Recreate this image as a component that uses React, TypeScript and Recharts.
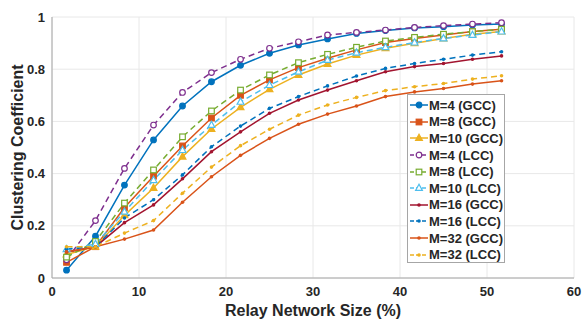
import React from 'react';
import { LineChart, Line, XAxis, YAxis, CartesianGrid, Legend, Label } from 'recharts';

const xs = [1.67, 5, 8.33, 11.67, 15, 18.33, 21.67, 25, 28.33, 31.67, 35, 38.33, 41.67, 45, 48.33, 51.67];

const m4Gcc = [0.03, 0.16, 0.356, 0.529, 0.659, 0.752, 0.815, 0.861, 0.893, 0.916, 0.937, 0.948, 0.958, 0.963, 0.969, 0.973];
const m8Gcc = [0.06, 0.12, 0.27, 0.39, 0.506, 0.613, 0.70, 0.759, 0.806, 0.842, 0.874, 0.902, 0.918, 0.931, 0.944, 0.953];
const m10Gcc = [0.09, 0.12, 0.24, 0.345, 0.465, 0.571, 0.654, 0.723, 0.778, 0.82, 0.854, 0.88, 0.899, 0.918, 0.934, 0.944];
const m4Lcc = [0.07, 0.22, 0.42, 0.586, 0.711, 0.787, 0.838, 0.88, 0.905, 0.931, 0.941, 0.95, 0.96, 0.967, 0.973, 0.978];
const m8Lcc = [0.08, 0.14, 0.287, 0.414, 0.541, 0.64, 0.72, 0.778, 0.825, 0.857, 0.884, 0.908, 0.922, 0.934, 0.944, 0.953];
const m10Lcc = [0.11, 0.13, 0.254, 0.375, 0.49, 0.586, 0.675, 0.739, 0.79, 0.835, 0.863, 0.884, 0.902, 0.918, 0.931, 0.944];
const m16Gcc = [0.10, 0.12, 0.212, 0.28, 0.38, 0.484, 0.56, 0.631, 0.682, 0.72, 0.756, 0.79, 0.81, 0.822, 0.838, 0.851];
const m16Lcc = [0.11, 0.12, 0.23, 0.30, 0.395, 0.503, 0.582, 0.65, 0.695, 0.736, 0.774, 0.803, 0.822, 0.838, 0.854, 0.867];
const m32Gcc = [0.10, 0.12, 0.149, 0.184, 0.29, 0.388, 0.47, 0.535, 0.589, 0.628, 0.659, 0.695, 0.713, 0.726, 0.743, 0.756];
const m32Lcc = [0.12, 0.12, 0.172, 0.22, 0.325, 0.425, 0.507, 0.57, 0.624, 0.663, 0.692, 0.718, 0.733, 0.745, 0.762, 0.775];

const xTicks = [0, 10, 20, 30, 40, 50, 60];
const yTicks = [0, 0.2, 0.4, 0.6, 0.8, 1];

const series = [
  { key: 'm4Gcc', name: 'M=4 (GCC)', values: m4Gcc, color: '#0072BD', marker: 'circle', filled: true, dashed: false },
  { key: 'm8Gcc', name: 'M=8 (GCC)', values: m8Gcc, color: '#D95319', marker: 'square', filled: true, dashed: false },
  { key: 'm10Gcc', name: 'M=10 (GCC)', values: m10Gcc, color: '#EDB120', marker: 'triangle', filled: true, dashed: false },
  { key: 'm4Lcc', name: 'M=4 (LCC)', values: m4Lcc, color: '#7E2F8E', marker: 'circle', filled: false, dashed: true },
  { key: 'm8Lcc', name: 'M=8 (LCC)', values: m8Lcc, color: '#77AC30', marker: 'square', filled: false, dashed: true },
  { key: 'm10Lcc', name: 'M=10 (LCC)', values: m10Lcc, color: '#4DBEEE', marker: 'triangle', filled: false, dashed: true },
  { key: 'm16Gcc', name: 'M=16 (GCC)', values: m16Gcc, color: '#A2142F', marker: 'dot', filled: true, dashed: false },
  { key: 'm16Lcc', name: 'M=16 (LCC)', values: m16Lcc, color: '#0072BD', marker: 'dot', filled: true, dashed: true },
  { key: 'm32Gcc', name: 'M=32 (GCC)', values: m32Gcc, color: '#D95319', marker: 'dot', filled: true, dashed: false },
  { key: 'm32Lcc', name: 'M=32 (LCC)', values: m32Lcc, color: '#EDB120', marker: 'dot', filled: true, dashed: true },
];

const data = xs.map((x, i) => {
  const row: any = { x };
  series.forEach((s) => { row[s.key] = s.values[i]; });
  return row;
});

const FONT = '"Liberation Sans", Arial, sans-serif';
const TEXT = '#262626';

function Marker({ cx, cy, s, k }: any) {
  const fill = s.filled ? s.color : '#ffffff';
  if (s.marker === 'circle') return <circle key={k} cx={cx} cy={cy} r={2.8} fill={fill} stroke={s.color} strokeWidth={1.2} />;
  if (s.marker === 'square') return <rect key={k} x={cx - 2.8} y={cy - 2.8} width={5.6} height={5.6} fill={fill} stroke={s.color} strokeWidth={1.2} />;
  if (s.marker === 'triangle') return <polygon key={k} points={`${cx},${cy - 3.8} ${cx - 3.4},${cy + 2.4} ${cx + 3.4},${cy + 2.4}`} fill={fill} stroke={s.color} strokeWidth={1.2} />;
  return <circle key={k} cx={cx} cy={cy} r={1.8} fill={s.color} stroke="none" />;
}

function LegendBox(props: any) {
  const payload = [...(props.payload || [])].sort(
    (a: any, b: any) => series.findIndex((d) => d.key === a.dataKey) - series.findIndex((d) => d.key === b.dataKey)
  );
  return (
    <div style={{ width: 98, height: 169, boxSizing: 'border-box', border: '1px solid #a6a6a6', background: '#fff', paddingTop: 2 }}>
      {payload.map((entry: any) => {
        const s = series.find((d) => d.key === entry.dataKey) || series[0];
        return (
          <div key={s.key} style={{ display: 'flex', alignItems: 'center', height: 16.6 }}>
            <svg width={20} height={10} style={{ marginLeft: 1 }}>
              <line x1={1} y1={5} x2={19} y2={5} stroke={s.color} strokeWidth={1.5} strokeDasharray={s.dashed ? '4 2' : undefined} />
              <Marker cx={10} cy={5} s={s} k="m" />
            </svg>
            <span style={{ fontFamily: FONT, fontWeight: 700, fontSize: 13, color: TEXT, whiteSpace: 'nowrap' }}>{s.name}</span>
          </div>
        );
      })}
    </div>
  );
}

export default function App() {
  return (
    <div style={{ position: 'absolute', left: 0, top: 0, width: 583, height: 322, background: '#fff' }}>
      <LineChart width={583} height={322} data={data} margin={{ top: 17, right: 9, bottom: 0, left: 0 }}>
        <CartesianGrid stroke="#e8e8e8" strokeWidth={1} />
        <XAxis
          dataKey="x"
          type="number"
          domain={[0, 60]}
          ticks={xTicks}
          height={44}
          axisLine={{ stroke: '#a6a6a6' }}
          tickLine={false}
          tickSize={0}
          tickMargin={9}
          tick={{ fill: TEXT, fontSize: 13, fontWeight: 700, fontFamily: FONT }}
        >
          <Label
            content={(p: any) => {
              const vb = p.viewBox || { x: 52, width: 522, y: 278 };
              return (
                <text x={vb.x + vb.width / 2} y={316} textAnchor="middle" fill={TEXT} fontSize={16} fontWeight={700} fontFamily={FONT}>
                  Relay Network Size (%)
                </text>
              );
            }}
          />
        </XAxis>
        <XAxis xAxisId="top" dataKey="x" type="number" domain={[0, 60]} orientation="top" height={0} tick={false} tickLine={false} axisLine={{ stroke: '#a6a6a6' }} />
        <YAxis
          type="number"
          domain={[0, 1]}
          ticks={yTicks}
          width={52}
          axisLine={{ stroke: '#a6a6a6' }}
          tickLine={false}
          tickSize={0}
          tickMargin={7}
          tickFormatter={(v: number) => String(v)}
          tick={{ fill: TEXT, fontSize: 13, fontWeight: 700, fontFamily: FONT }}
        >
          <Label
            content={(p: any) => {
              const vb = p.viewBox || { y: 17, height: 261 };
              const cy = vb.y + vb.height / 2;
              return (
                <text x={17} y={cy} transform={`rotate(-90, 17, ${cy})`} textAnchor="middle" dominantBaseline="central" fill={TEXT} fontSize={16} fontWeight={700} fontFamily={FONT}>
                  Clustering Coefficient
                </text>
              );
            }}
          />
        </YAxis>
        <YAxis yAxisId="right" orientation="right" width={0} domain={[0, 1]} tick={false} tickLine={false} axisLine={{ stroke: '#a6a6a6' }} />
        {series.map((s) => (
          <Line
            key={s.key}
            dataKey={s.key}
            name={s.name}
            stroke={s.color}
            strokeWidth={1.5}
            strokeDasharray={s.dashed ? '6 4' : undefined}
            isAnimationActive={false}
            dot={(p: any) => <Marker key={`${s.key}-${p.index}`} k={`${s.key}-${p.index}`} cx={p.cx} cy={p.cy} s={s} />}
            activeDot={false}
          />
        ))}
        <Legend
          layout="horizontal"
          verticalAlign="middle"
          align="center"
          itemSorter={null as any}
          content={(p: any) => <LegendBox payload={p.payload} />}
          wrapperStyle={{ position: 'absolute', left: 407, top: 94, width: 98, height: 169 }}
        />
      </LineChart>
    </div>
  );
}
